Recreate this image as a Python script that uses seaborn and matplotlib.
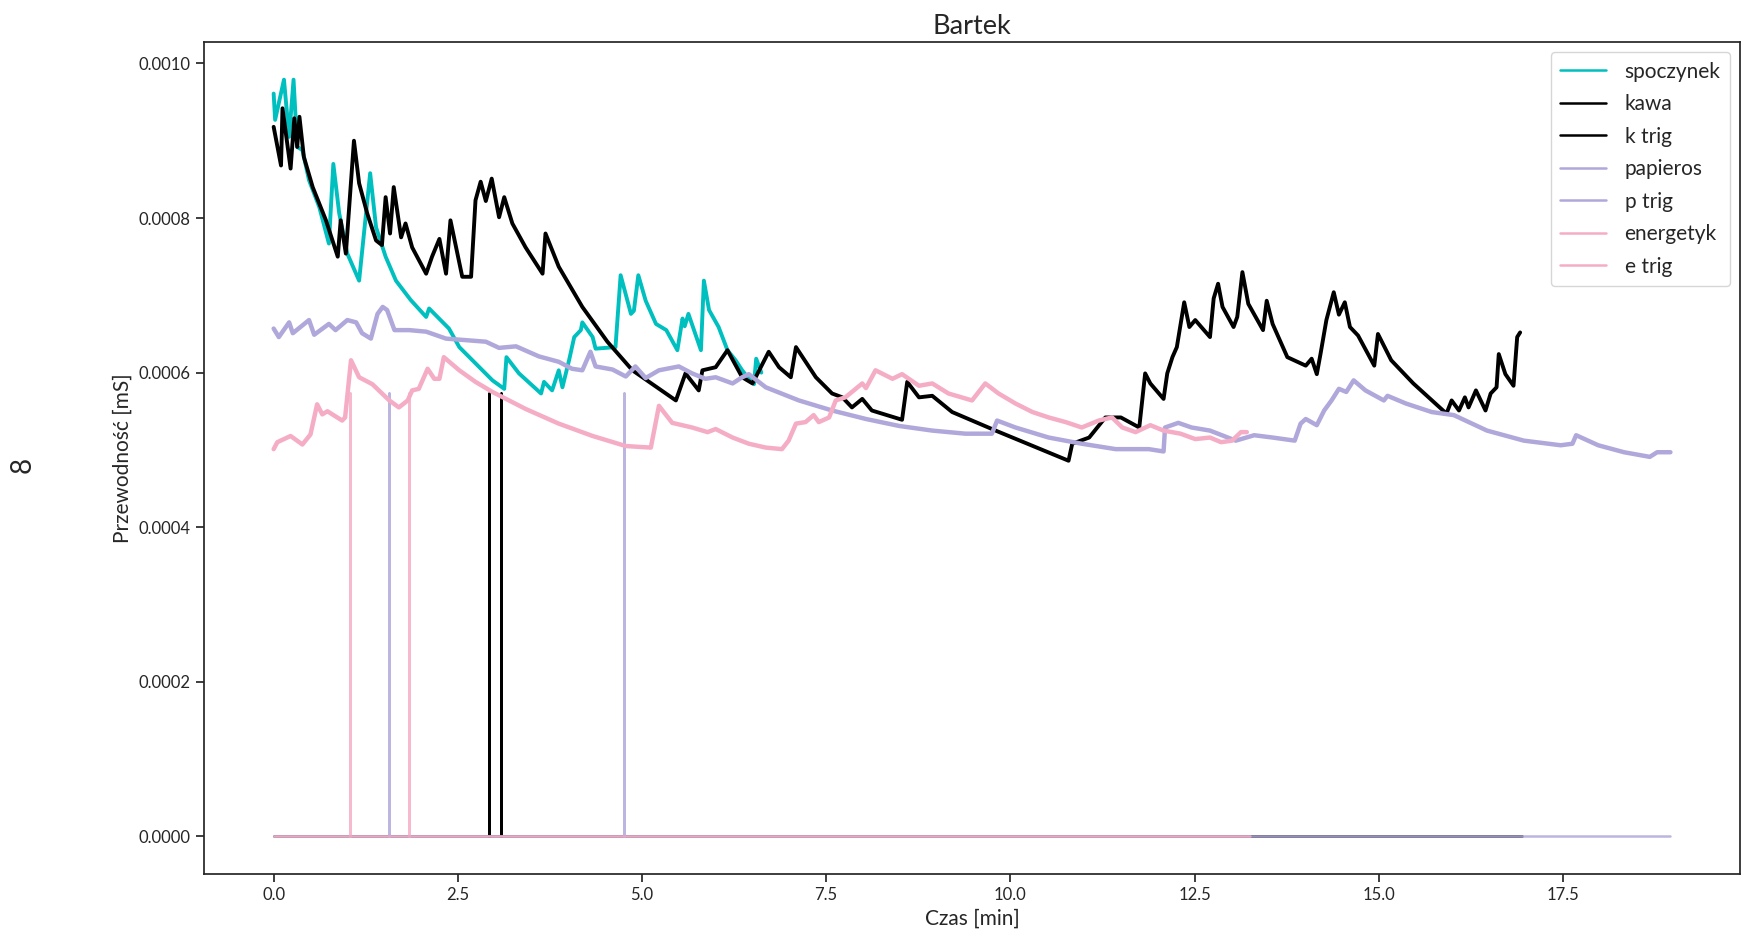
import numpy as np
import pandas as pd
import matplotlib
matplotlib.use("Agg")
import matplotlib.pyplot as plt
import seaborn as sns

# values, conductance in units of 1e-4 mS
spo_t = [0.0, 0.02, 0.14, 0.21, 0.27, 0.32, 0.39, 0.48, 0.62, 0.75,
         0.81, 0.89, 1.00, 1.16, 1.31, 1.39, 1.52, 1.66, 1.86, 2.07,
         2.11, 2.38, 2.52, 2.74, 2.97, 3.13, 3.16, 3.33, 3.63, 3.67,
         3.78, 3.87, 3.92, 4.01, 4.08, 4.17, 4.19, 4.33, 4.37, 4.64,
         4.71, 4.85, 4.89, 4.95, 5.05, 5.19, 5.33, 5.48, 5.55, 5.58,
         5.63, 5.80, 5.84, 5.91, 6.04, 6.16, 6.27, 6.36, 6.45, 6.52,
         6.55, 6.62]
spo_g = [9.61, 9.27, 9.79, 9.05, 9.79, 8.92, 8.88, 8.49, 8.14, 7.67,
         8.70, 8.06, 7.54, 7.19, 8.58, 7.88, 7.50, 7.19, 6.94, 6.72,
         6.83, 6.57, 6.33, 6.12, 5.90, 5.79, 6.20, 5.99, 5.73, 5.88,
         5.77, 6.03, 5.81, 6.16, 6.46, 6.55, 6.65, 6.46, 6.31, 6.33,
         7.26, 6.76, 6.80, 7.26, 6.93, 6.63, 6.55, 6.29, 6.70, 6.60,
         6.76, 6.29, 7.19, 6.81, 6.59, 6.29, 6.16, 6.03, 5.92, 5.85,
         6.18, 6.00]

kawa_t = [0.0, 0.10, 0.12, 0.23, 0.28, 0.32, 0.35, 0.41, 0.53, 0.71,
          0.87, 0.91, 0.98, 1.09, 1.16, 1.27, 1.39, 1.47, 1.52, 1.58,
          1.63, 1.73, 1.79, 1.88, 2.07, 2.15, 2.25, 2.34, 2.40, 2.56,
          2.68, 2.74, 2.81, 2.88, 2.96, 3.06, 3.13, 3.24, 3.42, 3.65,
          3.69, 3.87, 4.19, 4.53, 4.87, 5.46, 5.59, 5.77, 5.82, 6.00,
          6.16, 6.36, 6.50, 6.72, 6.86, 7.02, 7.09, 7.36, 7.58, 7.72,
          7.85, 7.99, 8.12, 8.53, 8.60, 8.76, 8.94, 9.21, 9.80, 10.79,
          10.84, 11.07, 11.29, 11.50, 11.75, 11.83, 11.90, 12.08, 12.13, 12.20,
          12.26, 12.36, 12.43, 12.51, 12.71, 12.76, 12.82, 12.88, 13.03, 13.08,
          13.15, 13.23, 13.43, 13.48, 13.56, 13.76, 14.01, 14.09, 14.16, 14.21,
          14.29, 14.39, 14.46, 14.54, 14.61, 14.72, 14.94, 14.99, 15.17, 15.47,
          15.92, 15.99, 16.09, 16.17, 16.22, 16.32, 16.45, 16.52, 16.60, 16.63,
          16.72, 16.83, 16.88, 16.92]
kawa_g = [9.18, 8.68, 9.42, 8.64, 9.29, 8.92, 9.31, 8.79, 8.40, 7.97,
          7.50, 7.97, 7.54, 9.00, 8.45, 8.06, 7.71, 7.65, 8.27, 7.80,
          8.40, 7.75, 7.93, 7.62, 7.28, 7.50, 7.73, 7.28, 7.97, 7.24,
          7.24, 8.23, 8.47, 8.22, 8.51, 8.01, 8.27, 7.93, 7.62, 7.28,
          7.80, 7.37, 6.85, 6.40, 6.03, 5.64, 5.99, 5.77, 6.03, 6.07,
          6.29, 5.94, 5.86, 6.27, 6.07, 5.94, 6.33, 5.94, 5.73, 5.68,
          5.55, 5.66, 5.51, 5.39, 5.88, 5.68, 5.70, 5.49, 5.25, 4.86,
          5.08, 5.16, 5.42, 5.42, 5.29, 5.99, 5.86, 5.66, 5.99, 6.20,
          6.33, 6.91, 6.59, 6.68, 6.46, 6.96, 7.15, 6.85, 6.59, 6.72,
          7.30, 6.89, 6.55, 6.93, 6.63, 6.20, 6.09, 6.18, 5.98, 6.24,
          6.68, 7.04, 6.75, 6.91, 6.59, 6.48, 6.09, 6.50, 6.16, 5.86,
          5.47, 5.64, 5.51, 5.68, 5.55, 5.77, 5.51, 5.73, 5.81, 6.24,
          5.98, 5.83, 6.46, 6.52]

pap_t = [0.0, 0.07, 0.21, 0.26, 0.48, 0.55, 0.75, 0.84, 1.00, 1.12,
         1.20, 1.32, 1.41, 1.48, 1.54, 1.64, 1.84, 2.07, 2.34, 2.61,
         2.88, 3.06, 3.29, 3.60, 3.87, 4.05, 4.19, 4.30, 4.37, 4.60,
         4.78, 4.91, 5.05, 5.23, 5.50, 5.68, 5.86, 6.00, 6.23, 6.36,
         6.45, 6.68, 7.13, 7.58, 8.04, 8.49, 8.94, 9.39, 9.75, 9.82,
         10.07, 10.52, 10.97, 11.43, 11.88, 12.08, 12.10, 12.28, 12.46, 12.71,
         13.06, 13.31, 13.56, 13.86, 13.94, 14.01, 14.16, 14.26, 14.36, 14.46,
         14.56, 14.66, 14.82, 15.07, 15.12, 15.37, 15.72, 16.02, 16.47, 16.97,
         17.47, 17.63, 17.68, 17.98, 18.33, 18.68, 18.78, 18.96]
pap_g = [6.57, 6.46, 6.65, 6.51, 6.68, 6.49, 6.63, 6.55, 6.68, 6.65,
         6.51, 6.44, 6.76, 6.85, 6.81, 6.55, 6.55, 6.53, 6.44, 6.42,
         6.40, 6.32, 6.34, 6.21, 6.14, 6.05, 6.03, 6.27, 6.08, 6.04,
         5.95, 6.08, 5.93, 6.03, 6.08, 5.99, 5.92, 5.94, 5.86, 5.94,
         5.98, 5.81, 5.64, 5.51, 5.40, 5.31, 5.25, 5.21, 5.21, 5.38,
         5.29, 5.16, 5.08, 5.01, 5.01, 4.98, 5.29, 5.35, 5.29, 5.25,
         5.12, 5.19, 5.16, 5.12, 5.34, 5.40, 5.32, 5.51, 5.64, 5.79,
         5.75, 5.90, 5.77, 5.64, 5.70, 5.60, 5.49, 5.45, 5.25, 5.12,
         5.06, 5.08, 5.19, 5.06, 4.97, 4.91, 4.97, 4.97]

ene_t = [0.0, 0.05, 0.23, 0.39, 0.50, 0.59, 0.66, 0.73, 0.93, 0.97,
         1.05, 1.16, 1.34, 1.57, 1.70, 1.82, 1.88, 1.97, 2.09, 2.18,
         2.25, 2.31, 2.52, 2.74, 2.97, 3.42, 3.87, 4.33, 4.78, 5.12,
         5.23, 5.41, 5.68, 5.89, 6.00, 6.23, 6.45, 6.68, 6.90, 6.99,
         7.09, 7.22, 7.33, 7.40, 7.54, 7.63, 7.76, 7.99, 8.04, 8.17,
         8.40, 8.53, 8.76, 8.94, 9.16, 9.48, 9.66, 9.84, 10.07, 10.30,
         10.52, 10.75, 10.97, 11.20, 11.38, 11.52, 11.70, 11.90, 12.08, 12.31,
         12.51, 12.71, 12.86, 13.01, 13.13, 13.21]
ene_g = [5.01, 5.10, 5.18, 5.07, 5.20, 5.59, 5.46, 5.50, 5.38, 5.42,
         6.16, 5.94, 5.85, 5.64, 5.55, 5.64, 5.77, 5.79, 6.05, 5.92,
         5.92, 6.20, 6.03, 5.88, 5.75, 5.53, 5.34, 5.18, 5.05, 5.03,
         5.57, 5.35, 5.29, 5.23, 5.27, 5.16, 5.08, 5.03, 5.01, 5.12,
         5.34, 5.36, 5.45, 5.36, 5.42, 5.64, 5.68, 5.86, 5.80, 6.03,
         5.92, 5.98, 5.83, 5.86, 5.73, 5.64, 5.86, 5.73, 5.60, 5.49,
         5.42, 5.36, 5.29, 5.38, 5.42, 5.29, 5.23, 5.32, 5.25, 5.21,
         5.14, 5.16, 5.10, 5.12, 5.23, 5.23]

# trigger channels: zero with short pulses
trig_level = 5.73
k_trig = [2.92, 3.09]
p_trig = [1.57, 4.75]
e_trig = [1.03, 1.84]
k_end, p_end, e_end = 16.94, 18.96, 13.25


def trig_series(times, end):
    xs, ys = [0.0], [0.0]
    for t in times:
        xs += [t, t, t]
        ys += [0.0, trig_level, 0.0]
    xs.append(end)
    ys.append(0.0)
    return np.array(xs), np.array(ys)


sns.set_theme(style="ticks")
plt.rcParams['font.family'] = ['Lato', 'DejaVu Sans']

c_spo = '#00bfbf'
c_kawa = 'black'
c_pap = '#b0a8da'
c_ene = '#f5adc6'

fig = plt.figure(figsize=(17.42, 9.30), dpi=100)
ax = fig.add_axes([0.117, 0.060, 0.882, 0.895])

kw = dict(ax=ax, estimator=None, sort=False)
sns.lineplot(x=spo_t, y=np.array(spo_g) * 1e-4, color=c_spo, lw=2.8, label='spoczynek', **kw)
sns.lineplot(x=kawa_t, y=np.array(kawa_g) * 1e-4, color=c_kawa, lw=2.8, label='kawa', **kw)
kx, ky = trig_series(k_trig, k_end)
sns.lineplot(x=kx, y=ky * 1e-4, color=c_kawa, lw=1.8, label='k trig', **kw)
sns.lineplot(x=pap_t, y=np.array(pap_g) * 1e-4, color=c_pap, lw=3.2, label='papieros', **kw)
px, py = trig_series(p_trig, p_end)
sns.lineplot(x=px, y=py * 1e-4, color=c_pap, lw=1.8, alpha=0.85, label='p trig', **kw)
sns.lineplot(x=ene_t, y=np.array(ene_g) * 1e-4, color=c_ene, lw=3.2, label='energetyk', **kw)
ex, ey = trig_series(e_trig, e_end)
sns.lineplot(x=ex, y=ey * 1e-4, color=c_ene, lw=1.8, alpha=0.85, label='e trig', **kw)

ax.set_title('Bartek', fontsize=19.5)
ax.set_xlabel('Czas [min]', fontsize=15)
ax.set_ylabel('Przewodność [mS]', fontsize=15)
ax.tick_params(labelsize=12)
ax.set_xticks(np.arange(0, 20, 2.5))
ax.set_yticks(np.arange(0, 0.00101, 0.0002))
ax.yaxis.set_major_formatter(matplotlib.ticker.FormatStrFormatter('%.4f'))
leg = ax.legend(loc='upper right', fontsize=15, handlelength=2.2,
                labelspacing=0.6, borderpad=0.45, handletextpad=0.9)
for h in leg.get_lines():
    h.set_linewidth(1.8)
    h.set_alpha(1)
fig.text(0.013, 0.5, '8', rotation=90, fontsize=20, va='center', ha='center')

fig.savefig('out.png', dpi=100)
